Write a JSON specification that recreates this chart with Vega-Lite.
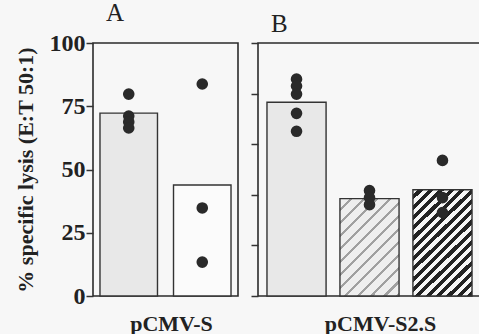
{
  "$schema": "https://vega.github.io/schema/vega-lite/v6.json",
  "background": "#f7f7f7",
  "padding": {"left": 13, "top": 0, "right": 0, "bottom": 0},
  "datasets": {
    "bars": [
      {"panel": "A", "grp": "A1", "value": 72.3},
      {"panel": "A", "grp": "A2", "value": 43.9},
      {"panel": "B", "grp": "B1", "value": 76.6},
      {"panel": "B", "grp": "B2", "value": 38.5},
      {"panel": "B", "grp": "B3", "value": 42.0}
    ],
    "points": [
      {"panel": "A", "grp": "A1", "value": 79.8},
      {"panel": "A", "grp": "A1", "value": 71.1},
      {"panel": "A", "grp": "A1", "value": 68.8},
      {"panel": "A", "grp": "A1", "value": 66.4},
      {"panel": "A", "grp": "A2", "value": 83.8},
      {"panel": "A", "grp": "A2", "value": 34.8},
      {"panel": "A", "grp": "A2", "value": 13.4},
      {"panel": "B", "grp": "B1", "value": 85.7},
      {"panel": "B", "grp": "B1", "value": 83.0},
      {"panel": "B", "grp": "B1", "value": 79.8},
      {"panel": "B", "grp": "B1", "value": 72.2},
      {"panel": "B", "grp": "B1", "value": 65.1},
      {"panel": "B", "grp": "B2", "value": 41.7},
      {"panel": "B", "grp": "B2", "value": 38.9},
      {"panel": "B", "grp": "B2", "value": 36.1},
      {"panel": "B", "grp": "B3", "value": 53.6},
      {"panel": "B", "grp": "B3", "value": 38.9},
      {"panel": "B", "grp": "B3", "value": 33.0}
    ]
  },
  "config": {
    "font": "Liberation Serif",
    "view": {"stroke": "#2b2b2b", "strokeWidth": 1.6},
    "concat": {"spacing": 10}
  },
  "hconcat": [
    {
      "width": 145,
      "height": 253,
      "title": {"text": "A", "anchor": "start", "frame": "group", "dx": 13, "offset": 5, "fontSize": 25, "fontWeight": "normal", "font": "Liberation Serif", "color": "#222"},
      "encoding": {
        "x": {
          "field": "grp", "type": "nominal",
          "scale": {"domain": ["A1", "A2"], "paddingInner": 0.218, "paddingOuter": 0.095},
          "axis": {"labels": false, "ticks": false, "domain": false, "title": "pCMV-S", "titleFont": "Liberation Serif", "titleFontSize": 22, "titleFontWeight": "bold", "titleColor": "#222", "titlePadding": 17, "titleX": 78}
        },
        "y": {
          "field": "value", "type": "quantitative",
          "scale": {"domain": [0, 100], "nice": false},
          "axis": {"values": [0, 25, 50, 75, 100], "grid": false, "domain": false, "tickSize": 7, "tickWidth": 1.5, "tickColor": "#333", "labelPadding": 1, "labelFont": "Liberation Serif", "labelFontSize": 24, "labelFontWeight": "bold", "labelColor": "#222", "title": "% specific lysis (E:T 50:1)", "titleFont": "Liberation Serif", "titleFontSize": 22, "titleFontWeight": "bold", "titleColor": "#222", "titlePadding": 12}
        }
      },
      "layer": [
        {
          "data": {"name": "bars"},
          "transform": [{"filter": "datum.grp === 'A1'"}],
          "mark": {"type": "bar", "fill": "#e8e8e8", "stroke": "#333", "strokeWidth": 1.4}
        },
        {
          "data": {"name": "bars"},
          "transform": [{"filter": "datum.grp === 'A2'"}],
          "mark": {"type": "bar", "fill": "#fbfbfb", "stroke": "#333", "strokeWidth": 1.4}
        },
        {
          "data": {"name": "points"},
          "transform": [{"filter": "datum.panel === 'A'"}],
          "mark": {"type": "circle", "size": 135, "color": "#2a2a2a", "opacity": 1}
        }
      ]
    },
    {
      "width": 223,
      "height": 253,
      "title": {"text": "B", "anchor": "start", "frame": "group", "dx": 13, "offset": 5, "fontSize": 25, "fontWeight": "normal", "font": "Liberation Serif", "color": "#222"},
      "encoding": {
        "x": {
          "field": "grp", "type": "nominal",
          "scale": {"domain": ["B1", "B2", "B3"], "paddingInner": 0.19, "paddingOuter": 0.123},
          "axis": {"labels": false, "ticks": false, "domain": false, "title": "pCMV-S2.S", "titleFont": "Liberation Serif", "titleFontSize": 22, "titleFontWeight": "bold", "titleColor": "#222", "titlePadding": 17, "titleX": 122}
        },
        "y": {
          "field": "value", "type": "quantitative",
          "scale": {"domain": [0, 100], "nice": false},
          "axis": {"values": [0, 20, 40, 60, 80, 100], "grid": false, "domain": false, "labels": false, "tickSize": 7, "tickWidth": 1.5, "tickColor": "#333", "title": null}
        }
      },
      "layer": [
        {
          "data": {"name": "bars"},
          "transform": [{"filter": "datum.grp === 'B1'"}],
          "mark": {"type": "bar", "fill": "#e8e8e8", "stroke": "#333", "strokeWidth": 1.4}
        },
        {
          "data": {"name": "bars"},
          "transform": [{"filter": "datum.grp === 'B2'"}],
          "mark": {"type": "bar", "stroke": "#333", "strokeWidth": 1.4,
            "fill": {"gradient": "linear", "x1": 0, "y1": 0, "x2": 0.714, "y2": 1.174, "stops": [
              {"offset": 0, "color": "#eeeeee"}, {"offset": 0.0625, "color": "#eeeeee"}, {"offset": 0.0625, "color": "#a0a0a0"}, {"offset": 0.0833, "color": "#a0a0a0"},
              {"offset": 0.0833, "color": "#eeeeee"}, {"offset": 0.1458, "color": "#eeeeee"}, {"offset": 0.1458, "color": "#a0a0a0"}, {"offset": 0.1667, "color": "#a0a0a0"},
              {"offset": 0.1667, "color": "#eeeeee"}, {"offset": 0.2292, "color": "#eeeeee"}, {"offset": 0.2292, "color": "#a0a0a0"}, {"offset": 0.25, "color": "#a0a0a0"},
              {"offset": 0.25, "color": "#eeeeee"}, {"offset": 0.3125, "color": "#eeeeee"}, {"offset": 0.3125, "color": "#a0a0a0"}, {"offset": 0.3333, "color": "#a0a0a0"},
              {"offset": 0.3333, "color": "#eeeeee"}, {"offset": 0.3958, "color": "#eeeeee"}, {"offset": 0.3958, "color": "#a0a0a0"}, {"offset": 0.4167, "color": "#a0a0a0"},
              {"offset": 0.4167, "color": "#eeeeee"}, {"offset": 0.4792, "color": "#eeeeee"}, {"offset": 0.4792, "color": "#a0a0a0"}, {"offset": 0.5, "color": "#a0a0a0"},
              {"offset": 0.5, "color": "#eeeeee"}, {"offset": 0.5625, "color": "#eeeeee"}, {"offset": 0.5625, "color": "#a0a0a0"}, {"offset": 0.5833, "color": "#a0a0a0"},
              {"offset": 0.5833, "color": "#eeeeee"}, {"offset": 0.6458, "color": "#eeeeee"}, {"offset": 0.6458, "color": "#a0a0a0"}, {"offset": 0.6667, "color": "#a0a0a0"},
              {"offset": 0.6667, "color": "#eeeeee"}, {"offset": 0.7292, "color": "#eeeeee"}, {"offset": 0.7292, "color": "#a0a0a0"}, {"offset": 0.75, "color": "#a0a0a0"},
              {"offset": 0.75, "color": "#eeeeee"}, {"offset": 0.8125, "color": "#eeeeee"}, {"offset": 0.8125, "color": "#a0a0a0"}, {"offset": 0.8333, "color": "#a0a0a0"},
              {"offset": 0.8333, "color": "#eeeeee"}, {"offset": 0.8958, "color": "#eeeeee"}, {"offset": 0.8958, "color": "#a0a0a0"}, {"offset": 0.9167, "color": "#a0a0a0"},
              {"offset": 0.9167, "color": "#eeeeee"}, {"offset": 0.9792, "color": "#eeeeee"}, {"offset": 0.9792, "color": "#a0a0a0"}, {"offset": 1, "color": "#a0a0a0"}
            ]}
          }
        },
        {
          "data": {"name": "bars"},
          "transform": [{"filter": "datum.grp === 'B3'"}],
          "mark": {"type": "bar", "stroke": "#333", "strokeWidth": 1.4,
            "fill": {"gradient": "linear", "x1": 0, "y1": 0, "x2": 0.651, "y2": 1.191, "stops": [
              {"offset": 0, "color": "#f6f6f6"}, {"offset": 0.03125, "color": "#f6f6f6"}, {"offset": 0.03125, "color": "#222222"}, {"offset": 0.0625, "color": "#222222"},
              {"offset": 0.0625, "color": "#f6f6f6"}, {"offset": 0.09375, "color": "#f6f6f6"}, {"offset": 0.09375, "color": "#222222"}, {"offset": 0.125, "color": "#222222"},
              {"offset": 0.125, "color": "#f6f6f6"}, {"offset": 0.15625, "color": "#f6f6f6"}, {"offset": 0.15625, "color": "#222222"}, {"offset": 0.1875, "color": "#222222"},
              {"offset": 0.1875, "color": "#f6f6f6"}, {"offset": 0.21875, "color": "#f6f6f6"}, {"offset": 0.21875, "color": "#222222"}, {"offset": 0.25, "color": "#222222"},
              {"offset": 0.25, "color": "#f6f6f6"}, {"offset": 0.28125, "color": "#f6f6f6"}, {"offset": 0.28125, "color": "#222222"}, {"offset": 0.3125, "color": "#222222"},
              {"offset": 0.3125, "color": "#f6f6f6"}, {"offset": 0.34375, "color": "#f6f6f6"}, {"offset": 0.34375, "color": "#222222"}, {"offset": 0.375, "color": "#222222"},
              {"offset": 0.375, "color": "#f6f6f6"}, {"offset": 0.40625, "color": "#f6f6f6"}, {"offset": 0.40625, "color": "#222222"}, {"offset": 0.4375, "color": "#222222"},
              {"offset": 0.4375, "color": "#f6f6f6"}, {"offset": 0.46875, "color": "#f6f6f6"}, {"offset": 0.46875, "color": "#222222"}, {"offset": 0.5, "color": "#222222"},
              {"offset": 0.5, "color": "#f6f6f6"}, {"offset": 0.53125, "color": "#f6f6f6"}, {"offset": 0.53125, "color": "#222222"}, {"offset": 0.5625, "color": "#222222"},
              {"offset": 0.5625, "color": "#f6f6f6"}, {"offset": 0.59375, "color": "#f6f6f6"}, {"offset": 0.59375, "color": "#222222"}, {"offset": 0.625, "color": "#222222"},
              {"offset": 0.625, "color": "#f6f6f6"}, {"offset": 0.65625, "color": "#f6f6f6"}, {"offset": 0.65625, "color": "#222222"}, {"offset": 0.6875, "color": "#222222"},
              {"offset": 0.6875, "color": "#f6f6f6"}, {"offset": 0.71875, "color": "#f6f6f6"}, {"offset": 0.71875, "color": "#222222"}, {"offset": 0.75, "color": "#222222"},
              {"offset": 0.75, "color": "#f6f6f6"}, {"offset": 0.78125, "color": "#f6f6f6"}, {"offset": 0.78125, "color": "#222222"}, {"offset": 0.8125, "color": "#222222"},
              {"offset": 0.8125, "color": "#f6f6f6"}, {"offset": 0.84375, "color": "#f6f6f6"}, {"offset": 0.84375, "color": "#222222"}, {"offset": 0.875, "color": "#222222"},
              {"offset": 0.875, "color": "#f6f6f6"}, {"offset": 0.90625, "color": "#f6f6f6"}, {"offset": 0.90625, "color": "#222222"}, {"offset": 0.9375, "color": "#222222"},
              {"offset": 0.9375, "color": "#f6f6f6"}, {"offset": 0.96875, "color": "#f6f6f6"}, {"offset": 0.96875, "color": "#222222"}, {"offset": 1, "color": "#222222"}
            ]}
          }
        },
        {
          "data": {"name": "points"},
          "transform": [{"filter": "datum.panel === 'B'"}],
          "mark": {"type": "circle", "size": 135, "color": "#2a2a2a", "opacity": 1}
        }
      ]
    }
  ]
}
